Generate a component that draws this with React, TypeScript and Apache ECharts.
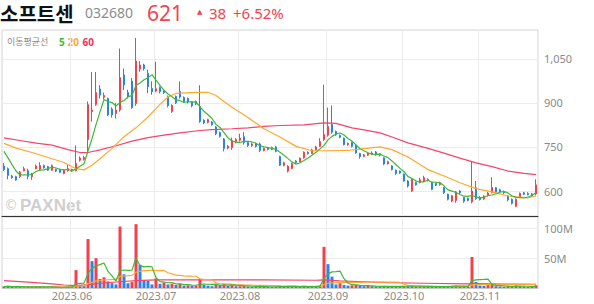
import { useEffect, useRef } from "react";
import * as echarts from "echarts";

// ---- categories: trading days shown (2023) ----
const monthDays: [string, number[]][] = [
  ["2023.05", [8, 9, 10, 11, 12, 15, 16, 17, 18, 19, 22, 23, 24, 25, 26, 30, 31]],
  ["2023.06", [1, 2, 5, 7, 8, 9, 12, 13, 14, 15, 16, 19, 20, 21, 22, 23, 26, 27, 28, 29, 30]],
  ["2023.07", [3, 4, 5, 6, 7, 10, 11, 12, 13, 14, 17, 18, 19, 20, 21, 24, 25, 26, 27, 28, 31]],
  ["2023.08", [1, 2, 3, 4, 7, 8, 9, 10, 11, 14, 16, 17, 18, 21, 22, 23, 24, 25, 28, 29, 30, 31]],
  ["2023.09", [1, 4, 5, 6, 7, 8, 11, 12, 13, 14, 15, 18, 19, 20, 21, 22, 25, 26, 27]],
  ["2023.10", [4, 5, 6, 10, 11, 12, 13, 16, 17, 18, 19, 20, 23, 24, 25, 26, 27, 30, 31]],
  ["2023.11", [1, 2, 3, 6, 7, 8, 9, 10, 13, 14, 15, 16, 17, 20, 21]],
];

// ---- daily prices (KRW) ----
const opens = [
  685, 676, 651, 649, 649, 669, 669, 649, 676, 673, 687, 683, 671, 673, 673, 660, 669, 673, 669, 705,
  708, 775, 870, 895, 947, 919, 915, 879, 864, 876, 995, 935, 974, 898, 1015, 1029, 1000, 949, 940, 952,
  942, 921, 871, 922, 939, 918, 915, 903, 905, 888, 841, 834, 835, 818, 799, 777, 746, 748, 768, 773,
  785, 765, 755, 760, 760, 738, 748, 742, 750, 718, 688, 668, 677, 702, 700, 713, 732, 728, 741, 752,
  775, 790, 826, 803, 789, 780, 758, 766, 756, 728, 718, 722, 725, 733, 727, 713, 693, 685, 671, 668,
  657, 634, 600, 629, 629, 634, 636, 629, 626, 622, 611, 589, 566, 568, 600, 578, 575, 563, 611, 578,
  573, 585, 595, 611, 604, 598, 583, 572, 548, 580, 594, 592, 590, 590,
];
const closes = [
  673, 653, 645, 638, 664, 676, 650, 658, 685, 687, 679, 671, 687, 668, 664, 671, 676, 668, 694, 712,
  714, 894, 876, 935, 927, 925, 859, 859, 876, 986, 961, 921, 884, 1042, 1029, 1017, 955, 938, 948, 938,
  935, 891, 891, 900, 920, 905, 903, 890, 896, 837, 832, 843, 826, 795, 786, 745, 753, 772, 775, 780,
  765, 755, 760, 752, 738, 745, 742, 748, 735, 688, 696, 684, 693, 697, 712, 732, 727, 740, 750, 768,
  792, 820, 800, 792, 783, 758, 762, 752, 730, 717, 723, 728, 729, 725, 722, 692, 700, 673, 660, 661,
  634, 617, 640, 621, 638, 645, 640, 606, 620, 628, 594, 572, 584, 597, 594, 565, 568, 600, 574, 571,
  582, 593, 612, 596, 597, 594, 570, 558, 572, 592, 589, 588, 583, 621,
];
const lows = [
  668, 640, 642, 635, 645, 667, 640, 638, 674, 670, 676, 668, 669, 665, 661, 657, 666, 665, 667, 700,
  704, 728, 836, 890, 915, 912, 855, 850, 847, 870, 944, 915, 880, 890, 1006, 1010, 933, 928, 936, 932,
  930, 885, 866, 896, 915, 900, 898, 885, 892, 832, 828, 830, 822, 790, 782, 735, 742, 740, 762, 768,
  758, 750, 750, 748, 733, 735, 738, 739, 732, 685, 684, 663, 674, 694, 698, 710, 724, 726, 738, 750,
  770, 785, 795, 788, 780, 755, 754, 748, 727, 710, 715, 719, 722, 720, 718, 688, 690, 670, 655, 658,
  632, 612, 597, 618, 626, 630, 633, 603, 617, 618, 590, 568, 562, 560, 590, 560, 565, 558, 570, 568,
  570, 582, 592, 592, 593, 590, 565, 554, 545, 578, 586, 585, 580, 585,
];
const highs = [
  695, 680, 655, 652, 668, 683, 676, 662, 690, 698, 690, 686, 690, 676, 676, 674, 690, 676, 755, 718,
  720, 905, 1005, 1005, 960, 935, 918, 885, 900, 1085, 1017, 945, 985, 1121, 1042, 1033, 1013, 973, 1040, 956,
  946, 925, 895, 925, 973, 922, 918, 906, 908, 960, 844, 846, 838, 821, 802, 780, 756, 782, 780, 795,
  800, 768, 765, 764, 765, 748, 750, 751, 754, 720, 700, 688, 696, 705, 714, 735, 735, 744, 754, 780,
  962, 884, 891, 806, 792, 782, 765, 768, 758, 730, 726, 733, 735, 736, 729, 715, 703, 688, 673, 670,
  660, 637, 643, 632, 645, 652, 643, 632, 628, 632, 614, 591, 587, 600, 603, 580, 578, 700, 634, 583,
  586, 597, 647, 614, 608, 602, 586, 575, 575, 595, 597, 596, 594, 640,
];
// closes of the four sessions before the first one shown (for the 5-day average)
const closesBefore = [763, 760, 748, 731];

// ---- traded volume (millions of shares) ----
const volumes = [
  2.5, 3.0, 2.0, 2.2, 1.8, 1.5, 2.0, 1.6, 2.2, 2.5,
  1.4, 1.2, 1.8, 1.0, 1.1, 1.3, 1.6, 1.5, 30, 5,
  3.5, 82, 45, 50, 15, 18, 11, 8, 6, 103,
  23, 8, 10, 107, 39, 13, 12, 6, 16, 7,
  9, 6, 7, 5, 7, 4, 4.5, 3.5, 4, 15,
  5, 4, 3, 6, 5, 7, 3.5, 5, 3, 3,
  4, 2.5, 2, 2, 3, 2, 1.8, 1.6, 2, 4,
  2.5, 3, 2.5, 1.8, 2.5, 3.5, 2, 2.5, 3, 4,
  69, 40, 19, 6, 8, 5, 4, 4.5, 5, 4,
  3, 3.5, 3, 2.5, 2, 3.5, 2.5, 3, 3, 2,
  3.5, 3, 4, 2, 2.5, 3, 2, 3, 2, 2.2,
  2.5, 3, 3.5, 4, 2, 2.5, 2, 52, 10, 4,
  3.5, 5, 6, 3, 2.5, 2, 3, 3.5, 4, 3,
  2, 2, 1.8, 4.5,
];

// ---- moving averages (session index -> value) ----
const ma20Idx = [0, 3, 7, 11, 15, 18, 20, 22, 24, 27, 30, 33, 36, 39, 41, 43, 48, 51, 53, 55, 57, 61, 65, 69, 73, 77, 81, 86, 90, 94, 97, 101, 106, 110, 114, 118, 122, 126, 131, 133];
const ma20Val = [762, 746, 731, 714, 697, 676, 672, 688, 710, 745, 785, 815, 852, 895, 920, 932, 936, 936, 925, 905, 885, 850, 812, 784, 752, 737, 737, 738, 744, 750, 741, 716, 673, 651, 628, 608, 597, 583, 577, 583];
const ma60Idx = [0, 4, 8, 12, 16, 19, 21, 24, 28, 32, 36, 40, 44, 49, 52, 57, 61, 65, 69, 75, 80, 83, 87, 90, 94, 97, 101, 106, 110, 114, 118, 122, 126, 130, 133];
const ma60Val = [781, 772, 763, 756, 741, 731, 731, 740, 754, 770, 782, 790, 798, 806, 809, 812, 815, 820, 823, 825, 832, 830, 815, 808, 798, 784, 764, 745, 729, 712, 696, 683, 668, 660, 656];
const volMa60Idx = [0, 6, 12, 15, 18, 21, 24, 29, 33, 38, 50, 65, 78, 80, 84, 90, 96, 105, 116, 118, 125, 133];
const volMa60Val = [12.5, 10, 7, 5, 4, 5.5, 8, 10.5, 12.5, 13.5, 13.5, 13.5, 13, 13.5, 12, 10.5, 9, 8, 7, 7.5, 6.5, 6];

const priceTicks = [600, 750, 900, 1050];
const volumeTicks = [50, 100];

const UP = "#f3404d";
const DOWN = "#2b82ea";
const C5 = "#3dba33";
const C20 = "#ffa82e";
const C60 = "#f4456a";

export default function App() {
  const ref = useRef<HTMLDivElement>(null);
  useEffect(() => {
    const dates: string[] = [];
    const monthStart = new Set<number>();
    const labelOf: Record<string, string> = {};
    monthDays.forEach(([m, days], mi) => {
      days.forEach((d, di) => {
        const key = m + "." + String(d).padStart(2, "0");
        if (di === 0 && mi > 0) {
          monthStart.add(dates.length);
          labelOf[key] = m;
        }
        dates.push(key);
      });
    });
    const n = dates.length;
    const candles = dates.map((_, i) => [opens[i], closes[i], lows[i], highs[i]]);
    const ext = [...closesBefore, ...closes];
    const ma5 = closes.map((_, i) => {
      let s = 0;
      for (let k = 0; k < 5; k++) s += ext[i + k];
      return +(s / 5).toFixed(1);
    });
    const sparse = (idx: number[], val: number[]) => {
      const a: (number | null)[] = new Array(n).fill(null);
      idx.forEach((k, j) => (a[k] = val[j]));
      return a;
    };
    const avail = (vals: number[], w: number) =>
      vals.map((_, i) => {
        const from = Math.max(0, i - w + 1);
        let s = 0;
        for (let k = from; k <= i; k++) s += vals[k];
        return +(s / (i - from + 1)).toFixed(2);
      });
    const volBars = volumes.map((v, i) => ({
      value: v,
      itemStyle: { color: i > 0 && v < volumes[i - 1] ? DOWN : UP },
    }));
    const splitFn = (i: number) => monthStart.has(i);
    const font = "'Noto Sans', 'Noto Sans CJK KR', sans-serif";
    const lineS = (name: string, data: any, color: string, xi: number, w = 1.2) => ({
      name,
      type: "line",
      xAxisIndex: xi,
      yAxisIndex: xi,
      data,
      connectNulls: true,
      symbol: "none",
      silent: true,
      lineStyle: { color, width: w },
      itemStyle: { color },
    });

    const chart = echarts.init(ref.current!, undefined, { renderer: "svg" });
    chart.setOption({
      animation: false,
      textStyle: { fontFamily: font },
      grid: [
        { left: 2, right: 56, top: 30, height: 186, show: true, borderColor: "#d2d2d2", borderWidth: 1 },
        { left: 2, right: 56, top: 217, height: 71, show: true, borderColor: "#d2d2d2", borderWidth: 1 },
      ],
      xAxis: [
        {
          type: "category",
          gridIndex: 0,
          data: dates,
          boundaryGap: true,
          axisLine: { show: true, lineStyle: { color: "#333", width: 1.2 } },
          axisTick: { show: false },
          axisLabel: { show: false },
          splitLine: { show: true, interval: splitFn, lineStyle: { color: "#ececec" } },
        },
        {
          type: "category",
          gridIndex: 1,
          data: dates,
          boundaryGap: true,
          axisLine: { show: true, lineStyle: { color: "#c8c8c8" } },
          axisTick: { show: false },
          axisLabel: {
            interval: splitFn,
            formatter: (v: string) => labelOf[v] || "",
            color: "#8a8a8a",
            fontSize: 11,
            margin: 2,
            fontFamily: font,
          },
          splitLine: { show: true, interval: splitFn, lineStyle: { color: "#ececec" } },
        },
      ],
      yAxis: [
        {
          type: "value",
          gridIndex: 0,
          position: "right",
          min: 515,
          max: 1148,
          axisLine: { show: false },
          axisTick: { show: false, customValues: priceTicks },
          axisLabel: {
            customValues: priceTicks,
            color: "#8a8a8a",
            fontSize: 11,
            margin: 6,
            fontFamily: font,
            formatter: (v: number) => v.toLocaleString("en-US"),
          },
          splitLine: { show: true, lineStyle: { color: "#ececec" } },
        },
        {
          type: "value",
          gridIndex: 1,
          position: "right",
          min: 0,
          max: 119,
          axisLine: { show: false },
          axisTick: { show: false, customValues: volumeTicks },
          axisLabel: {
            customValues: volumeTicks,
            color: "#8a8a8a",
            fontSize: 11,
            margin: 6,
            fontFamily: font,
            formatter: (v: number) => v + "M",
          },
          splitLine: { show: true, lineStyle: { color: "#ececec" } },
        },
      ],
      series: [
        {
          type: "candlestick",
          xAxisIndex: 0,
          yAxisIndex: 0,
          data: candles,
          barWidth: 2,
          silent: true,
          itemStyle: { color: UP, color0: DOWN, borderColor: UP, borderColor0: DOWN, borderWidth: 1 },
        },
        lineS("MA60", sparse(ma60Idx, ma60Val), C60, 0),
        lineS("MA20", sparse(ma20Idx, ma20Val), C20, 0),
        lineS("MA5", ma5, C5, 0),
        {
          type: "bar",
          xAxisIndex: 1,
          yAxisIndex: 1,
          data: volBars,
          barWidth: 3,
          silent: true,
        },
        lineS("VMA60", sparse(volMa60Idx, volMa60Val), C60, 1, 1.2),
        lineS("VMA20", avail(volumes, 20), C20, 1, 1.2),
        lineS("VMA5", avail(volumes, 5), C5, 1, 1.2),
      ],
      graphic: {
        elements: [
          { type: "text", x: 0, y: 13, style: { text: "소프트센", fill: "#111", fontSize: 20, lineHeight: 20, fontWeight: "bold", fontFamily: "'Noto Sans CJK KR'", verticalAlign: "middle" } },
          { type: "text", x: 85, y: 12.5, style: { text: "032680", fill: "#8c8c8c", fontSize: 14, fontFamily: font, verticalAlign: "middle" } },
          { type: "text", x: 147, y: 13, style: { text: "621", fill: "#f2434f", fontSize: 21, lineHeight: 21, fontFamily: font, verticalAlign: "middle" } },
          { type: "text", x: 197, y: 12, style: { text: "▲", fill: "#f2434f", fontSize: 7, fontFamily: "'DejaVu Sans'", verticalAlign: "middle" } },
          { type: "text", x: 209, y: 12.5, style: { text: "38", fill: "#f2434f", fontSize: 15, fontFamily: font, verticalAlign: "middle" } },
          { type: "text", x: 233, y: 12.5, style: { text: "+6.52%", fill: "#f2434f", fontSize: 15, fontFamily: font, verticalAlign: "middle" } },
          { type: "text", x: 7, y: 41.5, style: { text: "이동평균선", fill: "#8a8a8a", fontSize: 9, fontFamily: "'Noto Sans CJK KR'", verticalAlign: "middle" } },
          { type: "text", x: 59, y: 41.5, style: { text: "5", fill: C5, fontSize: 10, fontWeight: "bold", fontFamily: font, verticalAlign: "middle" } },
          { type: "text", x: 67.5, y: 41.5, style: { text: "20", fill: C20, fontSize: 10, fontWeight: "bold", fontFamily: font, verticalAlign: "middle" } },
          { type: "text", x: 82.5, y: 41.5, style: { text: "60", fill: "#f2335b", fontSize: 10, fontWeight: "bold", fontFamily: font, verticalAlign: "middle" } },
          { type: "text", x: 4, y: 205, style: { text: "©", fill: "#cfcfcf", fontSize: 14, fontFamily: "'DejaVu Sans'", verticalAlign: "middle" } },
          { type: "text", x: 20, y: 205, style: { text: "PAXNet", fill: "#cfcfcf", fontSize: 17, fontWeight: "bold", fontFamily: "'Liberation Sans', Arial, sans-serif", verticalAlign: "middle" } },
        ],
      },
    });
    return () => chart.dispose();
  }, []);
  return <div ref={ref} style={{ position: "absolute", left: 0, top: 0, width: 594, height: 304 }} />;
}
